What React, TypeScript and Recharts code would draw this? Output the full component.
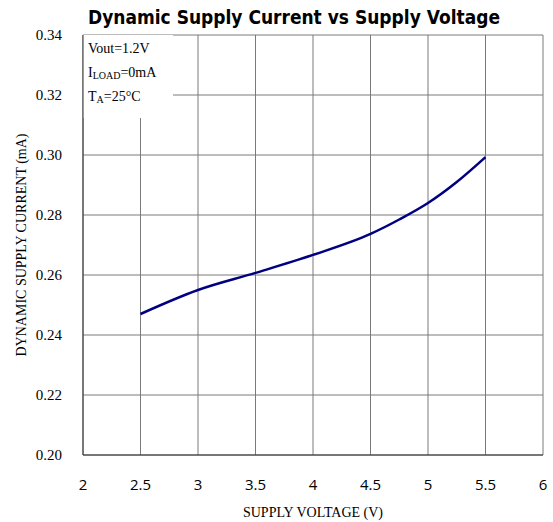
import React from "react";
import {
  LineChart,
  Line,
  XAxis,
  YAxis,
  CartesianGrid,
  ReferenceArea,
  Customized,
} from "recharts";

const voltage = [2.5, 3.0, 3.5, 4.0, 4.5, 4.75, 5.0, 5.25, 5.5];
const current = [0.247, 0.255, 0.2607, 0.2667, 0.2737, 0.2785, 0.284, 0.291, 0.2993];

const xTicks = [2, 2.5, 3, 3.5, 4, 4.5, 5, 5.5, 6];
const yTicks = [0.2, 0.22, 0.24, 0.26, 0.28, 0.3, 0.32, 0.34];

const data = voltage.map((v, i) => ({ v, i: current[i] }));

const serif = "'Liberation Serif', 'Times New Roman', serif";
const sans = "'Open Sans', 'DejaVu Sans', sans-serif";

function Conditions(props: any) {
  const { x, y } = props.viewBox ?? {};
  if (x == null) return null;
  const tx = x + 5;
  return (
    <g fontFamily={serif} fontSize={14} fill="#000">
      <text x={tx} y={y + 18}>Vout=1.2V</text>
      <text x={tx} y={y + 42}>
        I<tspan fontSize={10} dy={2}>LOAD</tspan>
        <tspan dy={-2}>=0mA</tspan>
      </text>
      <text x={tx} y={y + 66}>
        T<tspan fontSize={10} dy={2}>A</tspan>
        <tspan dy={-2}>=25°C</tspan>
      </text>
    </g>
  );
}

function Title() {
  return (
    <text
      x={294}
      y={24}
      textAnchor="middle"
      fontFamily="'DejaVu Sans', sans-serif"
      fontWeight="bold"
      fontSize={19}
      textLength={412}
      lengthAdjust="spacingAndGlyphs"
      fill="#000"
    >
      Dynamic Supply Current vs Supply Voltage
    </text>
  );
}

export default function App() {
  return (
    <div style={{ position: "absolute", left: 0, top: 0, background: "#fff" }}>
      <LineChart
        width={553}
        height={522}
        data={data}
        margin={{ top: 35, right: 10, bottom: 37, left: 0 }}
      >
        <CartesianGrid stroke="#7a7a7a" strokeWidth={1} />
        <XAxis
          dataKey="v"
          type="number"
          domain={[2, 6]}
          ticks={xTicks}
          height={30}
          tickLine={false}
          axisLine={{ stroke: "#333" }}
          tickMargin={18}
          tick={{ fontFamily: sans, fontSize: 15, fill: "#000" }}
          label={{
            value: "SUPPLY VOLTAGE (V)",
            position: "bottom",
            offset: 22,
            style: { fontFamily: serif, fontSize: 14, fill: "#000" },
          }}
        />
        <YAxis
          type="number"
          domain={[0.2, 0.34]}
          ticks={yTicks}
          width={83}
          tickLine={false}
          axisLine={{ stroke: "#333" }}
          tickMargin={15}
          tickFormatter={(t: number) => t.toFixed(2)}
          tick={{ fontFamily: serif, fontSize: 15, fill: "#000" }}
          label={{
            value: "DYNAMIC SUPPLY CURRENT (mA)",
            angle: -90,
            position: "insideLeft",
            offset: 21,
            style: { textAnchor: "middle", fontFamily: serif, fontSize: 14, fill: "#000" },
          }}
        />
        <ReferenceArea
          x1={2}
          x2={2.783}
          y1={0.3123}
          y2={0.34}
          fill="#fff"
          fillOpacity={1}
          stroke="none"
          label={<Conditions />}
        />
        <Line
          type="monotone"
          dataKey="i"
          stroke="#000080"
          strokeWidth={2.5}
          dot={false}
          isAnimationActive={false}
        />
        <Customized component={Title} />
      </LineChart>
    </div>
  );
}
